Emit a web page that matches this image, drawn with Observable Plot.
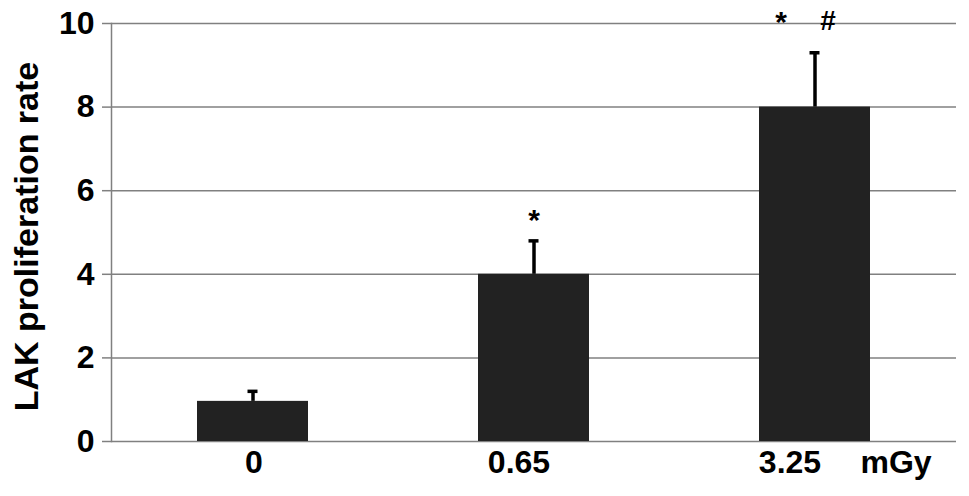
<!DOCTYPE html>
<html>
<head>
<meta charset="utf-8">
<script src="https://cdn.jsdelivr.net/npm/d3@7"></script>
<script src="https://cdn.jsdelivr.net/npm/@observablehq/plot@0.6"></script>
<style>
  html, body { margin: 0; padding: 0; background: #fff; }
  #chart svg { display: block; }
</style>
</head>
<body>
<div id="chart"></div>
<script>
const doses = ["0", "0.65", "3.25"];
const rates = [0.96, 4.0, 8.0];
const errorTops = [1.2, 4.8, 9.3];
const yTicks = [0, 2, 4, 6, 8, 10];
const yTitle = "LAK proliferation rate";
const xUnit = "mGy";
const marks05 = [{dose: "0.65", y: 5.28, text: "*"}];
const marks325Star = [{dose: "3.25", y: 10.03, text: "*"}];
const marks325Hash = [{dose: "3.25", y: 10.05, text: "#"}];

const data = doses.map((d, i) => ({dose: d, rate: rates[i], top: errorTops[i]}));
const grey = "#808080";
const font = "Liberation Sans, Arial, Helvetica, sans-serif";
const xAxisStyle = {tickSize: 0, tickPadding: 9, fontSize: 32, fontWeight: "bold", fill: "#000", fontFamily: font, label: null};

const chart = Plot.plot({
  width: 969,
  height: 496,
  marginLeft: 111,
  marginRight: 13,
  marginTop: 23,
  marginBottom: 55,
  style: {background: "#fff", fontFamily: font, color: "#000"},
  x: {domain: doses, paddingInner: 0.605, paddingOuter: 0.306, align: 0.5, label: null},
  y: {domain: [0, 10], label: null},
  marks: [
    Plot.ruleY(yTicks, {stroke: grey, strokeWidth: 1.5}),
    Plot.frame({anchor: "left", stroke: grey, strokeWidth: 1.5}),
    Plot.axisY(yTicks, {tickSize: 9, tickPadding: 8, stroke: grey, strokeWidth: 1.5, fontSize: 32, fontWeight: "bold", fill: "#000", fontFamily: font, label: null}),
    Plot.axisX([doses[0]], {...xAxisStyle, dx: 1}),
    Plot.axisX([doses[1]], {...xAxisStyle, dx: -15}),
    Plot.axisX([doses[2]], {...xAxisStyle, dx: -25}),
    Plot.barY(data, {x: "dose", y: "rate", fill: "#222222"}),
    Plot.ruleX(data, {x: "dose", y1: "rate", y2: "top", stroke: "#000", strokeWidth: 3.5}),
    Plot.tickY(data, {x: "dose", y: "top", stroke: "#000", strokeWidth: 3.5, insetLeft: 50.5, insetRight: 50.5}),
    Plot.text(marks05, {x: "dose", y: "y", text: "text", fontSize: 30, fontWeight: "bold", fontFamily: font, fill: "#000"}),
    Plot.text(marks325Star, {x: "dose", y: "y", text: "text", dx: -34, fontSize: 30, fontWeight: "bold", fontFamily: font, fill: "#000"}),
    Plot.text(marks325Hash, {x: "dose", y: "y", text: "text", dx: 13, fontSize: 28, fontWeight: "bold", fontFamily: font, fill: "#000"}),
    Plot.text([xUnit], {x: () => "3.25", y: () => 0, text: d => d, dx: 81, dy: 9, lineAnchor: "top", fontSize: 32, fontWeight: "bold", fontFamily: font, fill: "#000"}),
    Plot.text([yTitle], {frameAnchor: "left", text: d => d, rotate: -90, textAnchor: "middle", dx: -84, dy: 4, fontSize: 34, fontWeight: "bold", fontFamily: font, fill: "#000"})
  ]
});
document.getElementById("chart").appendChild(chart);
</script>
</body>
</html>
